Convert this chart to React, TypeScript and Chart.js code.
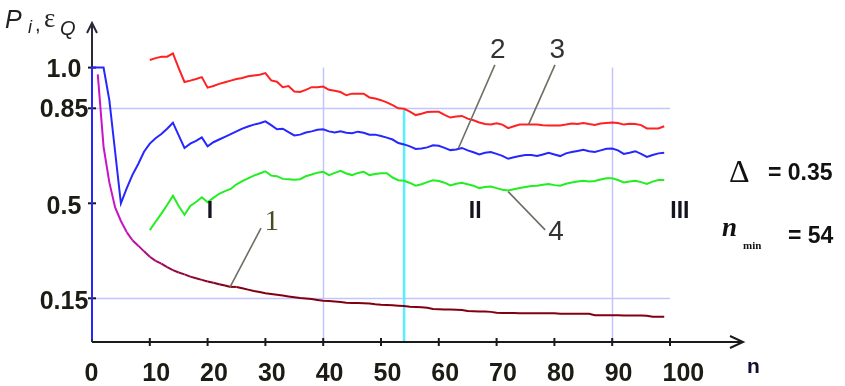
import React, { useEffect, useRef } from 'react';
import { Chart, registerables } from 'chart.js';

Chart.register(...registerables);

// ---- data ----
const curve1Start = 1; // curve 1 (magenta -> maroon), n = 1..99
const curve1 = [
  0.975, 0.708, 0.577, 0.485, 0.435, 0.394, 0.364, 0.344, 0.323, 0.303,
  0.288, 0.278, 0.265, 0.254, 0.245, 0.238, 0.230, 0.224, 0.218, 0.212,
  0.207, 0.202, 0.197, 0.192, 0.192, 0.187, 0.182, 0.177, 0.173, 0.169,
  0.166, 0.163, 0.160, 0.157, 0.154, 0.151, 0.149, 0.147, 0.144, 0.141,
  0.140, 0.138, 0.136, 0.134, 0.133, 0.133, 0.132, 0.131, 0.128, 0.126,
  0.125, 0.124, 0.123, 0.122, 0.119, 0.118, 0.117, 0.115, 0.111, 0.110,
  0.109, 0.109, 0.108, 0.107, 0.103, 0.102, 0.101, 0.101, 0.100, 0.097,
  0.096, 0.096, 0.096, 0.095, 0.095, 0.095, 0.095, 0.095, 0.095, 0.095,
  0.093, 0.093, 0.093, 0.093, 0.093, 0.093, 0.088, 0.088, 0.088, 0.088,
  0.088, 0.087, 0.087, 0.087, 0.087, 0.086, 0.082, 0.082, 0.082,
];

const curve2Lead = 0; // blue value at n = 0 before the jump
const curve2Start = 0; // curve 2 (blue), n = 0..99
const curve2 = [
  1.0, 1.0, 1.0, 0.88, 0.69, 0.5, 0.555, 0.605, 0.645, 0.69,
  0.72, 0.74, 0.755, 0.775, 0.797, 0.75, 0.704, 0.72, 0.73, 0.743,
  0.71, 0.725, 0.735, 0.745, 0.755, 0.765, 0.775, 0.783, 0.79, 0.795,
  0.802, 0.788, 0.773, 0.775, 0.762, 0.75, 0.753, 0.761, 0.765, 0.771,
  0.773, 0.765, 0.761, 0.765, 0.76, 0.758, 0.764, 0.76, 0.753, 0.753,
  0.748, 0.742, 0.735, 0.722, 0.717, 0.71, 0.70, 0.702, 0.706, 0.714,
  0.712, 0.704, 0.696, 0.698, 0.704, 0.695, 0.688, 0.68, 0.686, 0.689,
  0.682, 0.675, 0.664, 0.67, 0.674, 0.678, 0.678, 0.674, 0.68, 0.686,
  0.68, 0.674, 0.684, 0.689, 0.693, 0.697, 0.692, 0.689, 0.695, 0.701,
  0.702, 0.695, 0.682, 0.686, 0.692, 0.682, 0.671, 0.678, 0.684, 0.686,
];

const curve3Start = 10; // curve 3 (red), n = 10..99
const curve3 = [
  1.028, 1.035, 1.040, 1.040, 1.052, 0.998, 0.947, 0.952, 0.958, 0.965,
  0.926, 0.932, 0.940, 0.946, 0.952, 0.958, 0.962, 0.968, 0.971, 0.974,
  0.980, 0.953, 0.948, 0.928, 0.932, 0.912, 0.910, 0.918, 0.928, 0.928,
  0.930, 0.918, 0.915, 0.910, 0.898, 0.904, 0.904, 0.904, 0.890, 0.886,
  0.880, 0.872, 0.862, 0.850, 0.848, 0.838, 0.825, 0.830, 0.836, 0.837,
  0.837, 0.826, 0.816, 0.820, 0.822, 0.812, 0.806, 0.798, 0.792, 0.790,
  0.795, 0.790, 0.777, 0.784, 0.790, 0.790, 0.790, 0.790, 0.788, 0.787,
  0.787, 0.787, 0.790, 0.794, 0.792, 0.796, 0.792, 0.789, 0.794, 0.796,
  0.798, 0.796, 0.790, 0.793, 0.792, 0.788, 0.776, 0.776, 0.776, 0.784,
];

const curve4Start = 10; // curve 4 (green), n = 10..99
const curve4 = [
  0.401, 0.432, 0.462, 0.494, 0.528, 0.49, 0.458, 0.49, 0.505, 0.522,
  0.504, 0.52, 0.535, 0.545, 0.553, 0.57, 0.582, 0.592, 0.602, 0.61,
  0.618, 0.602, 0.60, 0.59, 0.589, 0.587, 0.589, 0.60, 0.606, 0.613,
  0.616, 0.604, 0.612, 0.62, 0.61, 0.604, 0.612, 0.616, 0.604, 0.608,
  0.611, 0.611, 0.595, 0.585, 0.583, 0.575, 0.565, 0.57, 0.578, 0.585,
  0.582, 0.576, 0.566, 0.572, 0.576, 0.57, 0.565, 0.556, 0.56, 0.562,
  0.556, 0.55, 0.547, 0.552, 0.556, 0.56, 0.564, 0.565, 0.568, 0.571,
  0.567, 0.565, 0.572, 0.577, 0.58, 0.583, 0.58, 0.582, 0.588, 0.592,
  0.592, 0.586, 0.577, 0.58, 0.583, 0.578, 0.571, 0.58, 0.586, 0.586,
];

const xTicks = [0, 10, 20, 30, 40, 50, 60, 70, 80, 90, 100];
const yTicks = [1.0, 0.85, 0.5, 0.15];
const yTickLabels = ['1.0', '0.85', '0.5', '0.15'];
const hGridValues = [0.85, 0.15];
const vGridValues = [40, 90];
const gridEndN = 100;
const vGridTop = 1.0;
const nMin = 54;
const deltaValue = 0.35;

const regionLabels = [
  { text: 'I', n: 20.4, v: 0.445 },
  { text: 'II', n: 66.3, v: 0.445 },
  { text: 'III', n: 101.7, v: 0.445 },
];

const curveLabels = [
  { text: '1', n: 31.1, v: 0.402, serif: true, from: [23.9, 0.192], to: [29.24, 0.409] },
  { text: '2', n: 70.2, v: 1.035, serif: false, from: [63.4, 0.703], to: [69.7, 1.01] },
  { text: '3', n: 80.5, v: 1.035, serif: false, from: [75.5, 0.789], to: [80.1, 1.01] },
  { text: '4', n: 80.3, v: 0.365, serif: false, from: [72.0, 0.543], to: [78.4, 0.402] },
];

const X_MIN = 0;
const X_MAX = 112.63;
const Y_MIN = -0.011;
const Y_MAX = 1.168;

function toPoints(start: number, values: number[]) {
  return values.map((v, i) => ({ x: start + i, y: v }));
}

function mix(a: number[], b: number[], t: number) {
  const c = a.map((av, i) => Math.round(av + (b[i] - av) * t));
  return `rgb(${c[0]},${c[1]},${c[2]})`;
}

function curve1Color(v: number) {
  const t = Math.max(0, Math.min(1, (v - 0.19) / (0.4 - 0.19)));
  return mix([128, 0, 16], [200, 20, 200], t);
}

const decorPlugin = {
  id: 'decor',
  beforeDatasetsDraw(chart: any) {
    const { ctx, chartArea, scales } = chart;
    const xs = scales.x;
    const ys = scales.y;
    ctx.save();
    // horizontal grid segments
    ctx.strokeStyle = '#c4c4ff';
    ctx.lineWidth = 1.5;
    hGridValues.forEach((v) => {
      const py = Math.round(ys.getPixelForValue(v)) + 0.5;
      ctx.beginPath();
      ctx.moveTo(xs.getPixelForValue(0), py);
      ctx.lineTo(xs.getPixelForValue(gridEndN), py);
      ctx.stroke();
    });
    vGridValues.forEach((n) => {
      const px = Math.round(xs.getPixelForValue(n)) + 0.5;
      ctx.beginPath();
      ctx.moveTo(px, ys.getPixelForValue(vGridTop));
      ctx.lineTo(px, chartArea.bottom);
      ctx.stroke();
    });
    // n_min line
    ctx.strokeStyle = '#55f0ff';
    ctx.lineWidth = 2.5;
    const pxm = xs.getPixelForValue(nMin);
    ctx.beginPath();
    ctx.moveTo(pxm, ys.getPixelForValue(hGridValues[0]));
    ctx.lineTo(pxm, chartArea.bottom);
    ctx.stroke();

    // axes
    const ox = xs.getPixelForValue(0);
    const by = chartArea.bottom;
    ctx.strokeStyle = '#1a1a1a';
    ctx.lineWidth = 2;
    ctx.beginPath();
    ctx.moveTo(ox, by);
    ctx.lineTo(chartArea.right, by);
    ctx.stroke();
    ctx.beginPath();
    ctx.moveTo(chartArea.right - 13, by - 6);
    ctx.lineTo(chartArea.right, by);
    ctx.lineTo(chartArea.right - 13, by + 6);
    ctx.stroke();
    ctx.strokeStyle = '#2a2a3a';
    ctx.beginPath();
    ctx.moveTo(ox, by);
    ctx.lineTo(ox, chartArea.top + 1);
    ctx.stroke();
    ctx.beginPath();
    ctx.moveTo(ox - 5, chartArea.top + 11);
    ctx.lineTo(ox, chartArea.top + 1);
    ctx.lineTo(ox + 5, chartArea.top + 11);
    ctx.stroke();

    // x tick marks
    ctx.strokeStyle = '#1a1a1a';
    ctx.lineWidth = 2;
    xTicks.forEach((n) => {
      if (n === 0) return;
      const px = xs.getPixelForValue(n);
      ctx.beginPath();
      ctx.moveTo(px, by - 4);
      ctx.lineTo(px, by + 4);
      ctx.stroke();
    });
    // y tick marks
    yTicks.forEach((v) => {
      const py = ys.getPixelForValue(v);
      ctx.beginPath();
      ctx.moveTo(ox - 4, py);
      ctx.lineTo(ox + 4, py);
      ctx.stroke();
    });
    ctx.restore();
  },
  afterDatasetsDraw(chart: any) {
    const { ctx, chartArea, scales } = chart;
    const xs = scales.x;
    const ys = scales.y;
    ctx.save();
    ctx.textBaseline = 'alphabetic';

    // x tick labels
    ctx.fillStyle = '#1c1c14';
    ctx.font = 'bold 25px "Liberation Sans", Arial, sans-serif';
    ctx.textAlign = 'left';
    xTicks.forEach((n) => {
      ctx.fillText(String(n), xs.getPixelForValue(n) - 7.5, chartArea.bottom + 39);
    });
    // y tick labels
    ctx.textAlign = 'center';
    yTicks.forEach((v, i) => {
      ctx.fillText(yTickLabels[i], chartArea.left - 28, ys.getPixelForValue(v) + 9 + (v < 0.6 ? 2 : 0));
    });

    // region labels
    ctx.fillStyle = '#141420';
    ctx.font = 'bold 23px "Liberation Sans", Arial, sans-serif';
    regionLabels.forEach((r) => {
      ctx.fillText(r.text, xs.getPixelForValue(r.n), ys.getPixelForValue(r.v));
    });

    // leaders + curve labels
    curveLabels.forEach((c) => {
      ctx.strokeStyle = '#6e6e62';
      ctx.lineWidth = 1.6;
      ctx.beginPath();
      ctx.moveTo(xs.getPixelForValue(c.from[0]), ys.getPixelForValue(c.from[1]));
      ctx.lineTo(xs.getPixelForValue(c.to[0]), ys.getPixelForValue(c.to[1]));
      ctx.stroke();
      ctx.fillStyle = c.serif ? '#4a4a20' : '#333333';
      ctx.font = c.serif
        ? '29px "Liberation Serif", "Times New Roman", serif'
        : '28px "Liberation Sans", Arial, sans-serif';
      ctx.textAlign = 'center';
      ctx.fillText(c.text, xs.getPixelForValue(c.n), ys.getPixelForValue(c.v));
    });

    // axis titles
    ctx.textAlign = 'left';
    ctx.fillStyle = '#222222';
    ctx.font = 'italic 25px "Liberation Sans", Arial, sans-serif';
    ctx.fillText('P', 5, 28);
    ctx.font = 'italic 18px "Liberation Sans", Arial, sans-serif';
    ctx.fillText('i', 28, 33);
    ctx.font = '20px "Liberation Sans", Arial, sans-serif';
    ctx.fillText(',', 35, 31);
    ctx.font = '27px "Liberation Serif", serif';
    ctx.fillText('ε', 44, 27);
    ctx.font = 'italic 20px "Liberation Sans", Arial, sans-serif';
    ctx.fillText('Q', 60, 35);

    ctx.fillStyle = '#101030';
    ctx.font = 'bold 21px "Liberation Sans", Arial, sans-serif';
    ctx.fillText('n', chartArea.right + 4, chartArea.bottom + 31);

    // side annotations
    ctx.fillStyle = '#111111';
    ctx.font = '32px "Liberation Serif", "Times New Roman", serif';
    ctx.fillText('Δ', 729, 182);
    ctx.font = 'bold 23px "Liberation Sans", Arial, sans-serif';
    ctx.fillText('= ' + deltaValue.toFixed(2), 768, 180);
    ctx.font = 'bold italic 27px "Liberation Serif", "Times New Roman", serif';
    ctx.fillText('n', 722, 236);
    ctx.font = 'bold 11px "Liberation Serif", "Times New Roman", serif';
    ctx.fillText('min', 743, 249);
    ctx.font = 'bold 23px "Liberation Sans", Arial, sans-serif';
    ctx.fillText('= ' + nMin, 788, 243);
    ctx.restore();
  },
};

export default function App() {
  const canvasRef = useRef<HTMLCanvasElement | null>(null);

  useEffect(() => {
    const canvas = canvasRef.current;
    if (!canvas) return;
    const blueData = [{ x: curve2Start, y: curve2Lead }, ...toPoints(curve2Start, curve2)];
    const chart = new Chart(canvas, {
      type: 'line',
      data: {
        datasets: [
          {
            label: '1',
            data: toPoints(curve1Start, curve1),
            borderColor: '#a01080',
            borderWidth: 2,
            pointRadius: 0,
            segment: {
              borderColor: (c: any) => curve1Color((c.p0.parsed.y + c.p1.parsed.y) / 2),
            },
          },
          {
            label: '2',
            data: blueData,
            borderColor: '#2626ff',
            borderWidth: 2,
            pointRadius: 0,
            clip: false,
          },
          {
            label: '3',
            data: toPoints(curve3Start, curve3),
            borderColor: '#ff2222',
            borderWidth: 2,
            pointRadius: 0,
          },
          {
            label: '4',
            data: toPoints(curve4Start, curve4),
            borderColor: '#22ee22',
            borderWidth: 2,
            pointRadius: 0,
          },
        ] as any,
      },
      options: {
        responsive: false,
        animation: false,
        devicePixelRatio: 1,
        layout: { padding: { left: 92, right: 102, top: 22, bottom: 44 } },
        elements: { line: { tension: 0 } },
        scales: {
          x: { type: 'linear', min: X_MIN, max: X_MAX, display: false },
          y: { type: 'linear', min: Y_MIN, max: Y_MAX, display: false },
        },
        plugins: {
          legend: { display: false },
          tooltip: { enabled: false },
        },
      },
      plugins: [decorPlugin],
    });
    return () => chart.destroy();
  }, []);

  return (
    <div style={{ position: 'absolute', left: 0, top: 0, width: 845, height: 386, background: '#fff' }}>
      <canvas ref={canvasRef} width={845} height={386} style={{ width: 845, height: 386, display: 'block' }} />
    </div>
  );
}
